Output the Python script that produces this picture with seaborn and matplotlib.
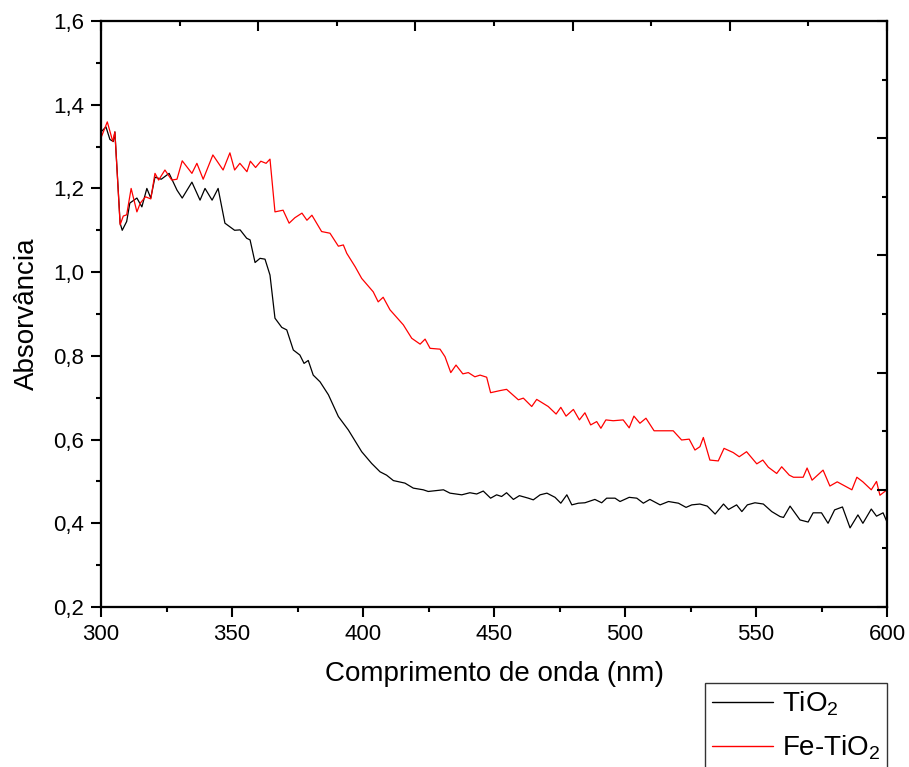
#!/usr/bin/env python3
import numpy as np
import pandas as pd
import matplotlib
matplotlib.use("Agg")
import matplotlib.pyplot as plt
from matplotlib.ticker import MultipleLocator, FuncFormatter
import seaborn as sns

# TiO2 (preto)
tio2_nm = [300, 301.9, 303.4, 304.7, 305.3, 307.3, 308.1, 309.8, 311, 313.7,
           315.6, 317.5, 319, 320.6, 323, 326, 329, 331, 334.7, 337.8,
           339.7, 342.4, 344.7, 347.3, 351, 353.1, 355.6, 356.9, 358.8, 360.7,
           362.6, 364.5, 366.4, 369, 370.9, 373.4, 375.9, 377.5, 379.1, 381,
           383.6, 386.8, 390.6, 394.4, 399.5, 403.3, 406.5, 409, 411.6, 416,
           419.2, 423, 424.9, 430.7, 433.2, 437.7, 440.8, 443.4, 445.9, 448.7,
           451, 452.9, 454.8, 457.4, 459.7, 463.1, 465, 467.6, 470.2, 473.3,
           475.5, 477.8, 479.7, 482.2, 484.7, 488.5, 491.1, 493, 496.2, 498.1,
           501.6, 504.5, 507, 509.5, 513.4, 516.6, 520.4, 523.3, 525.5, 528.6,
           531.4, 534.4, 537.6, 539.5, 542.6, 544.6, 546.7, 549.6, 552.8, 556,
           559.2, 560.5, 563, 566.8, 569.9, 571.8, 575, 577.5, 580, 583,
           585.9, 588.9, 590.8, 594, 596, 598.5, 600]
tio2_abs = [1.335, 1.347, 1.317, 1.312, 1.335, 1.117, 1.10, 1.121, 1.165, 1.177,
            1.156, 1.20, 1.177, 1.227, 1.222, 1.236, 1.196, 1.177, 1.215, 1.172,
            1.20, 1.172, 1.20, 1.117, 1.10, 1.101, 1.081, 1.077, 1.023, 1.033,
            1.031, 0.993, 0.890, 0.868, 0.862, 0.814, 0.802, 0.782, 0.789, 0.754,
            0.738, 0.707, 0.655, 0.623, 0.571, 0.543, 0.523, 0.515, 0.502, 0.496,
            0.484, 0.480, 0.476, 0.480, 0.472, 0.468, 0.473, 0.470, 0.477, 0.460,
            0.468, 0.464, 0.473, 0.457, 0.466, 0.460, 0.456, 0.468, 0.472, 0.462,
            0.448, 0.468, 0.444, 0.448, 0.449, 0.457, 0.449, 0.460, 0.460, 0.452,
            0.462, 0.460, 0.448, 0.457, 0.444, 0.452, 0.448, 0.438, 0.444, 0.446,
            0.441, 0.422, 0.446, 0.433, 0.444, 0.428, 0.444, 0.449, 0.446, 0.428,
            0.416, 0.414, 0.441, 0.408, 0.403, 0.425, 0.425, 0.40, 0.432, 0.439,
            0.389, 0.42, 0.40, 0.434, 0.417, 0.425, 0.403]

# Fe-TiO2 (vermelho)
fe_nm = [300.2, 302.4, 304.5, 305.3, 307.3, 308.5, 309.8, 311.5, 313.7, 315,
         317, 319, 320.6, 322, 324.4, 327, 329, 331, 334.7, 336.6,
         339, 342.7, 346.6, 349.2, 351, 353, 355.7, 357, 359, 361,
         363, 364.5, 366.4, 369.5, 371.8, 374, 376.7, 378.6, 380.5, 384.2,
         387.4, 390.6, 392.5, 393.8, 397, 399.5, 403.9, 405.8, 407.7, 410.3,
         415.4, 418.6, 421.8, 423.7, 425.6, 429.4, 431.3, 433.5, 435.5, 438.1,
         440.2, 442.7, 444.7, 447.2, 448.7, 452.3, 454.8, 459.3, 461.2, 464.4,
         466.3, 470.7, 473.7, 475.5, 477.5, 480.3, 482.6, 484.7, 486.9, 489.2,
         490.8, 492.7, 495.5, 499.3, 501.6, 503.4, 505.7, 508, 511.1, 515.3,
         518.4, 521.6, 524.5, 526.7, 528.6, 529.9, 532.4, 535.6, 537.8, 541.3,
         543.6, 546.4, 550.3, 552.6, 554.7, 557.9, 559.8, 562.7, 564.3, 568,
         569.5, 571.4, 575.6, 578.2, 581, 586.6, 588.5, 590.8, 594, 596,
         597.3, 600]
fe_abs = [1.324, 1.359, 1.312, 1.335, 1.113, 1.134, 1.137, 1.20, 1.144, 1.165,
          1.18, 1.175, 1.236, 1.22, 1.244, 1.22, 1.222, 1.266, 1.236, 1.26,
          1.222, 1.28, 1.244, 1.285, 1.244, 1.26, 1.24, 1.265, 1.25, 1.265,
          1.26, 1.27, 1.144, 1.148, 1.117, 1.13, 1.141, 1.124, 1.136, 1.097,
          1.093, 1.062, 1.065, 1.045, 1.013, 0.985, 0.953, 0.929, 0.940, 0.910,
          0.874, 0.842, 0.828, 0.840, 0.818, 0.816, 0.798, 0.760, 0.778, 0.757,
          0.760, 0.750, 0.754, 0.749, 0.712, 0.717, 0.720, 0.695, 0.699, 0.679,
          0.696, 0.679, 0.661, 0.677, 0.656, 0.672, 0.647, 0.664, 0.635, 0.643,
          0.627, 0.647, 0.645, 0.647, 0.628, 0.656, 0.639, 0.651, 0.621, 0.621,
          0.621, 0.599, 0.601, 0.575, 0.583, 0.605, 0.551, 0.549, 0.579, 0.569,
          0.559, 0.571, 0.542, 0.551, 0.534, 0.519, 0.535, 0.515, 0.51, 0.51,
          0.532, 0.503, 0.527, 0.489, 0.499, 0.48, 0.51, 0.499, 0.48, 0.50,
          0.467, 0.48]

LABELS = [r"TiO$_\mathregular{2}$", r"Fe-TiO$_\mathregular{2}$"]
COLORS = ["#000000", "#ff0000"]

sns.set_theme(style="ticks")
plt.rcParams["font.family"] = ["Liberation Sans", "DejaVu Sans"]
plt.rcParams["mathtext.fontset"] = "custom"
plt.rcParams["mathtext.rm"] = "Liberation Sans"
plt.rcParams["mathtext.it"] = "Liberation Sans:italic"
plt.rcParams["text.color"] = "black"
plt.rcParams["axes.labelcolor"] = "black"
plt.rcParams["xtick.color"] = "black"
plt.rcParams["ytick.color"] = "black"

df = pd.concat([
    pd.DataFrame({"nm": tio2_nm, "abs": tio2_abs, "amostra": LABELS[0]}),
    pd.DataFrame({"nm": fe_nm, "abs": fe_abs, "amostra": LABELS[1]}),
])

fig = plt.figure(figsize=(9.09, 7.67), dpi=100)
ax = fig.add_axes([101 / 909, 1 - 607 / 767, 786 / 909, 586 / 767])

sns.lineplot(data=df, x="nm", y="abs", hue="amostra", palette=COLORS,
             estimator=None, sort=False, linewidth=0.9, ax=ax, legend=False)

ax.set_xlim(300, 600)
ax.set_ylim(0.2, 1.6)
ax.xaxis.set_major_locator(MultipleLocator(50))
ax.xaxis.set_minor_locator(MultipleLocator(25))
ax.yaxis.set_major_locator(MultipleLocator(0.2))
ax.yaxis.set_minor_locator(MultipleLocator(0.1))
ax.yaxis.set_major_formatter(FuncFormatter(lambda v, p: f"{v:.1f}".replace(".", ",")))
ax.tick_params(which="major", direction="out", length=7, width=1.5,
               labelsize=16, pad=5, colors="black")
ax.tick_params(which="minor", direction="out", length=3.5, width=1.5)
ax.set_xlabel("Comprimento de onda (nm)", fontsize=20, labelpad=12, color="black")
ax.set_ylabel("Absorvância", fontsize=20, labelpad=10, color="black")

for s in ax.spines.values():
    s.set_linewidth(1.5)
    s.set_color("black")
    s.set_visible(True)

# eixos de cima e da direita (estilo Origin)
top = ax.twiny()
top.set_xlim(0, 1)
top.xaxis.set_major_locator(MultipleLocator(0.2))
top.xaxis.set_minor_locator(MultipleLocator(0.1))
top.tick_params(which="major", direction="in", length=7, width=1.5, labeltop=False)
top.tick_params(which="minor", direction="in", length=3.5, width=1.5)

right = ax.twinx()
right.set_ylim(0, 1)
right.yaxis.set_major_locator(MultipleLocator(0.2))
right.yaxis.set_minor_locator(MultipleLocator(0.1))
right.tick_params(which="major", direction="in", length=7, width=1.5, labelright=False)
right.tick_params(which="minor", direction="in", length=3.5, width=1.5)
for a in (top, right):
    for s in a.spines.values():
        s.set_linewidth(1.5)
        s.set_color("black")

handles = [plt.Line2D([], [], color=c, linewidth=1.0) for c in COLORS]
leg = fig.legend(handles, LABELS, loc="upper right",
                 bbox_to_anchor=(887 / 909, 1 - 683 / 767),
                 fontsize=20, frameon=True, fancybox=False, framealpha=1,
                 edgecolor="#333333", borderpad=0.25, handlelength=2.2,
                 handletextpad=0.3, labelspacing=0.55, borderaxespad=0)
leg.get_frame().set_linewidth(1.0)

fig.savefig("out.png", dpi=100)
